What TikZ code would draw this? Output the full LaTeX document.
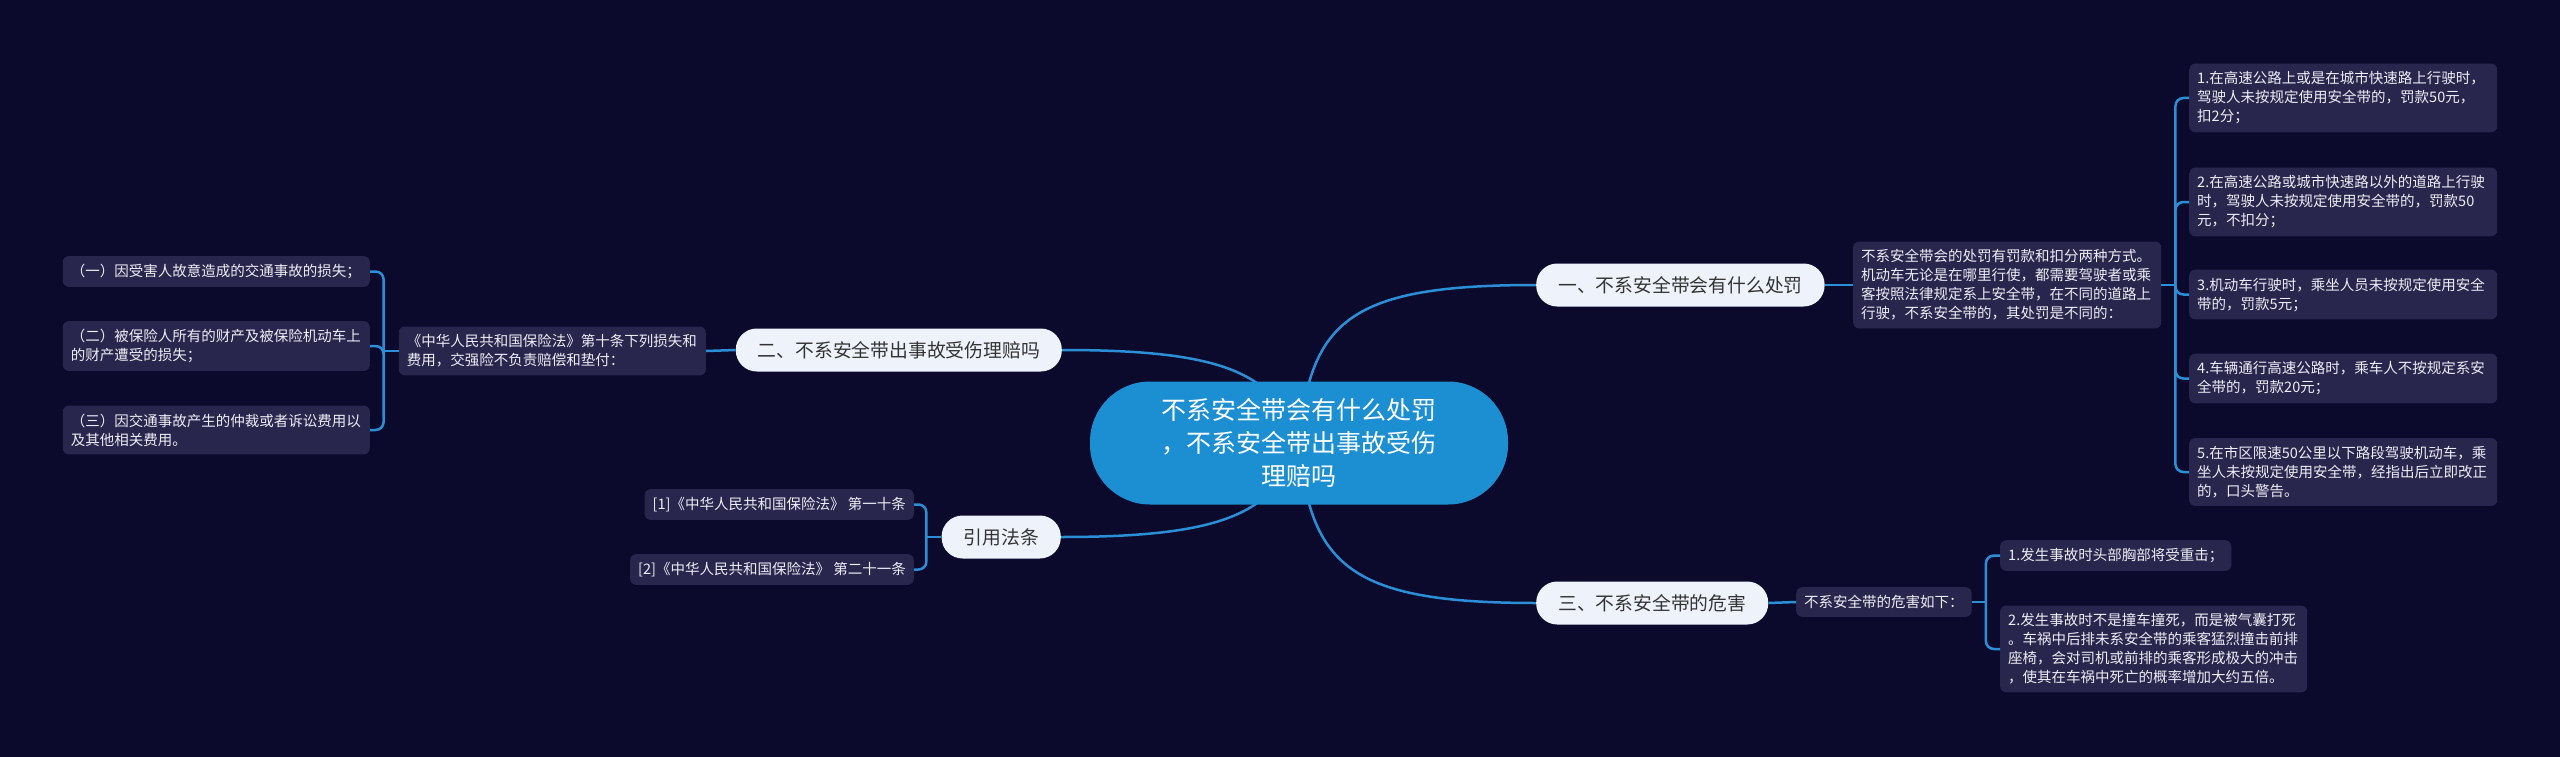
\documentclass[tikz,border=0pt]{standalone}
\usepackage{fontspec}
\setmainfont{Noto Sans CJK SC}
\definecolor{bgdark}{HTML}{0B0A2C}
\definecolor{rootblue}{HTML}{1C8FD3}
\definecolor{linkblue}{HTML}{2B8FD8}
\definecolor{leafbox}{HTML}{28264C}
\definecolor{branchbox}{HTML}{EEF3FB}
\definecolor{branchtext}{HTML}{333333}
\definecolor{leaftext}{HTML}{EDEDF5}
\pgfdeclarelayer{bg}
\pgfdeclarelayer{links}
\pgfsetlayers{bg,links,main}
\tikzset{
  rootnode/.style={fill=rootblue, text=white, rounded corners=60, minimum width=418, minimum height=123, align=center, font=\fontsize{25}{33}\selectfont},
  branch/.style={fill=branchbox, text=branchtext, rounded corners=21, minimum height=43, inner xsep=22, font=\fontsize{18.8}{22}\selectfont},
  leaf/.style={fill=leafbox, text=leaftext, rounded corners=6, inner xsep=8, inner ysep=8, align=left, font=\fontsize{14.5}{19}\selectfont},
  link/.style={draw=linkblue, line width=2.5, rounded corners=8}
}

\begin{document}
\begin{tikzpicture}[x=1pt,y=-1pt]
        \begin{pgfonlayer}{bg}
            \fill[bgdark] (0,0) rectangle (2560,757);
        \end{pgfonlayer}

        \node[rootnode] (root) at (1299,443) {不系安全带会有什么处罚\\，不系安全带出事故受伤\\理赔吗};

        \node[branch, anchor=west] (pen) at (1536,285) {一、不系安全带会有什么处罚};
        \node[branch, anchor=east] (claim) at (1062,350) {二、不系安全带出事故受伤理赔吗};
        \node[branch, anchor=west] (harm) at (1536,603) {三、不系安全带的危害};
        \node[branch, anchor=east] (cite) at (1061,537) {引用法条};

        \node[leaf, anchor=west, text width=292] (penD) at (1853,285) {不系安全带会的处罚有罚款和扣分两种方式。\\机动车无论是在哪里行使，都需要驾驶者或乘\\客按照法律规定系上安全带，在不同的道路上\\行驶，不系安全带的，其处罚是不同的：};
        \node[leaf, anchor=west, text width=292] (pen1) at (2189,98) {1.在高速公路上或是在城市快速路上行驶时，\\驾驶人未按规定使用安全带的，罚款50元，\\扣2分；};
        \node[leaf, anchor=west, text width=292] (pen2) at (2189,202) {2.在高速公路或城市快速路以外的道路上行驶\\时，驾驶人未按规定使用安全带的，罚款50\\元，不扣分；};
        \node[leaf, anchor=west, text width=292] (pen3) at (2189,294.5) {3.机动车行驶时，乘坐人员未按规定使用安全\\带的，罚款5元；};
        \node[leaf, anchor=west, text width=292] (pen4) at (2189,378.5) {4.车辆通行高速公路时，乘车人不按规定系安\\全带的，罚款20元；};
        \node[leaf, anchor=west, text width=292] (pen5) at (2189,472) {5.在市区限速50公里以下路段驾驶机动车，乘\\坐人未按规定使用安全带，经指出后立即改正\\的，口头警告。};

        \node[leaf, anchor=west] (harmD) at (1796,602) {不系安全带的危害如下：};
        \node[leaf, anchor=west] (harm1) at (2000,555.5) {1.发生事故时头部胸部将受重击；};
        \node[leaf, anchor=west, text width=291] (harm2) at (2000,649) {2.发生事故时不是撞车撞死，而是被气囊打死\\。车祸中后排未系安全带的乘客猛烈撞击前排\\座椅，会对司机或前排的乘客形成极大的冲击\\，使其在车祸中死亡的概率增加大约五倍。};

        \node[leaf, anchor=east, text width=291] (claimD) at (706,351) {《中华人民共和国保险法》第十条下列损失和\\费用，交强险不负责赔偿和垫付：};
        \node[leaf, anchor=east, text width=291] (claim1) at (370,271.5) {（一）因受害人故意造成的交通事故的损失；};
        \node[leaf, anchor=east, text width=291] (claim2) at (370,346) {（二）被保险人所有的财产及被保险机动车上\\的财产遭受的损失；};
        \node[leaf, anchor=east, text width=291] (claim3) at (370,430) {（三）因交通事故产生的仲裁或者诉讼费用以\\及其他相关费用。};

        \node[leaf, anchor=east] (cite1) at (914,504.5) {[1]《中华人民共和国保险法》 第一十条};
        \node[leaf, anchor=east] (cite2) at (914,569.5) {[2]《中华人民共和国保险法》 第二十一条};

        \begin{pgfonlayer}{links}
            \draw[link] (root.center) .. controls (1310,320) and (1350,285) .. (pen.west); \draw[link] (root.center) .. controls (1310,566) and (1350,603) .. (harm.west);
            \draw[link] (root.center) .. controls (1275,375) and (1230,350) .. (claim.east); \draw[link] (root.center) .. controls (1275,511) and (1230,537) .. (cite.east);
        \end{pgfonlayer}

        \path (penD.east) ++(14,0) coordinate (penJ); \path (harmD.east) ++(14,0) coordinate (harmJ);
        \path (claimD.west) ++(-15,0) coordinate (claimJ); \path (cite.west) ++(-15,0) coordinate (citeJ);

        \draw[link] (pen.east) -- (penD.west); \draw[link] (penD.east) -- (penJ);
        \foreach \i in {1,...,5} \draw[link] (penJ) |- (pen\i.west);
        \draw[link] (harm.east) -- (harmD.west); \draw[link] (harmD.east) -- (harmJ);
        \foreach \i in {1,2} \draw[link] (harmJ) |- (harm\i.west);
        \draw[link] (claim.west) -- (claimD.east); \draw[link] (claimD.west) -- (claimJ);
        \foreach \i in {1,2,3} \draw[link] (claimJ) |- (claim\i.east);
        \draw[link] (cite.west) -- (citeJ);
        \foreach \i in {1,2} \draw[link] (citeJ) |- (cite\i.east);
    \end{tikzpicture}
\end{document}
